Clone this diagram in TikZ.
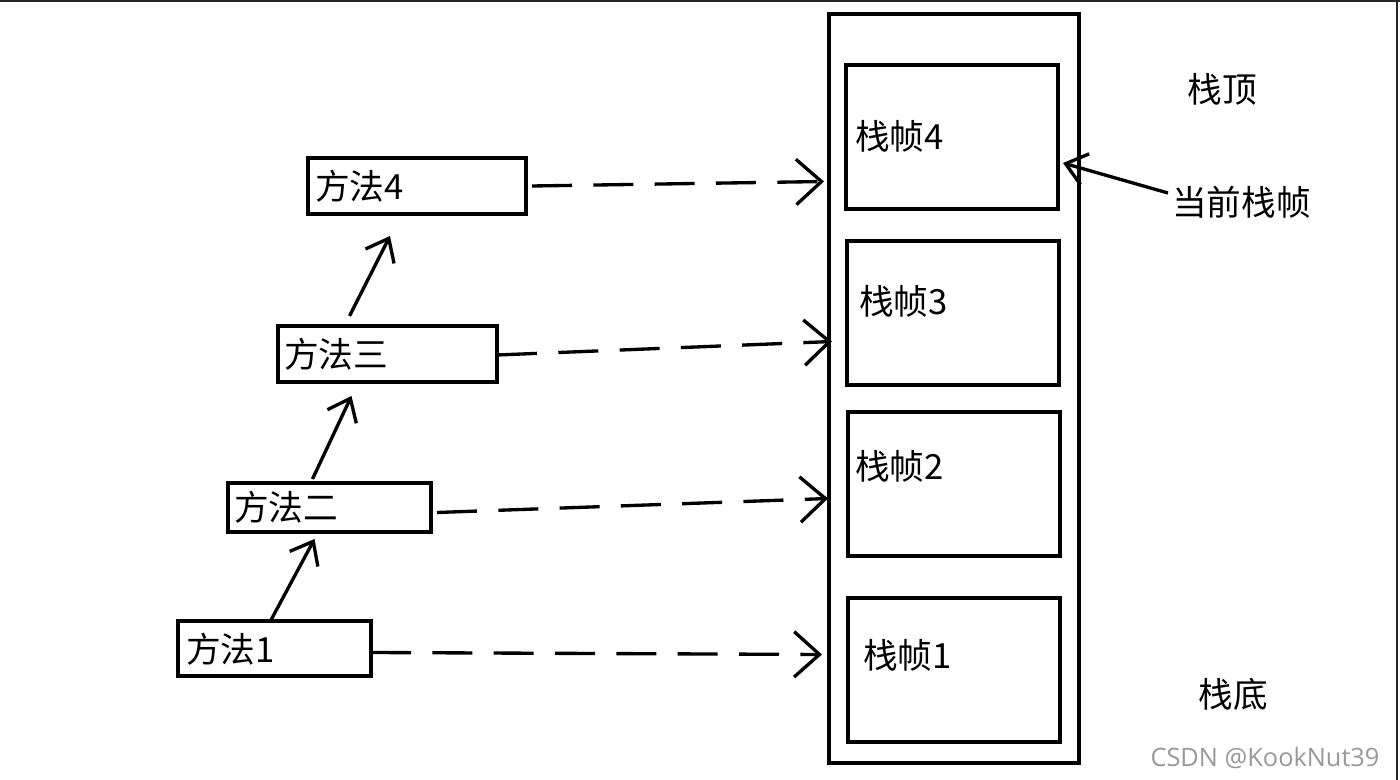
\documentclass[tikz,border=0pt]{standalone}
\usepackage{fontspec}
\setmainfont{Noto Sans CJK SC}
\newfontfamily\wmfont{Open Sans}
\usetikzlibrary{arrows.meta,calc}
\begin{document}
\begin{tikzpicture}[x=0.75pt,y=-0.75pt,
  every node/.style={inner sep=0pt,outer sep=0pt},
  box/.style={draw,line width=2.5pt},
  lbl/.style={font=\fontsize{26pt}{28pt}\selectfont,anchor=west},
  solidarr/.style={line width=2.5pt,-{Straight Barb[length=15pt,width=24pt,line width=2.5pt]}},
  dasharr/.style={line width=2.5pt,dash pattern=on 30pt off 16pt,-{Straight Barb[length=19pt,width=34pt,line width=2.5pt]}}
]
\useasboundingbox (0,0) rectangle (1400,780);
\fill[white] (0,0) rectangle (1400,780);
\draw[line width=1.5pt,black!85] (0,1) -- (1400,1);
\draw[line width=1.5pt,black!85] (1397,0) -- (1397,780);
% stack
\node[box,minimum width=187.5pt,minimum height=561.75pt] (stack) at (954,388.5) {};
\node[box,minimum width=159pt,minimum height=108pt] (f4) at (952,137) {};
\node[box,minimum width=159pt,minimum height=108pt] (f3) at (953,313) {};
\node[box,minimum width=159pt,minimum height=108pt] (f2) at (954,484) {};
\node[box,minimum width=159pt,minimum height=108pt] (f1) at (954,670) {};
\node[lbl] (t4) at (855,136) {栈帧4};
\node[lbl] (t3) at (859,301) {栈帧3};
\node[lbl] (t2) at (855,466) {栈帧2};
\node[lbl] (t1) at (863,655) {栈帧1};
\node[font=\fontsize{26pt}{28pt}\selectfont] (top) at (1222,89) {栈顶};
\node[font=\fontsize{26pt}{28pt}\selectfont] (bot) at (1233,694) {栈底};
\node[lbl] (cur) at (1172,202) {当前栈帧};
% methods
\node[box,minimum width=163.5pt,minimum height=42pt] (m4) at (417,186) {};
\node[box,minimum width=164.25pt,minimum height=42pt] (m3) at (387.5,354) {};
\node[box,minimum width=152.25pt,minimum height=36.75pt] (m2) at (329.5,507.5) {};
\node[box,minimum width=144.75pt,minimum height=41.25pt] (m1) at (274.5,648.5) {};
\node[lbl] (n4) at (315,186) {方法4};
\node[lbl] (n3) at (284,354) {方法三};
\node[lbl] (n2) at (234,507) {方法二};
\node[lbl] (n1) at (186,649) {方法1};
% solid call arrows
\draw[solidarr] ($(m1.north)+(-4,0)$) -- ($(m2.south)+(-15,7)$);
\draw[solidarr] ($(m2.north)+(-17,-4)$) -- ($(m3.south)+(-36,14)$);
\draw[solidarr] ($(m3.north)+(-38,-10)$) -- ($(m4.south)+(-27,22)$);
% dashed arrows to frames
\draw[dasharr] ($(m4.east)+(6,0)$) -- ($(stack.west)+(-5,-207)$);
\draw[dasharr] ($(m3.east)+(0,1)$) -- ($(stack.west)+(3,-47)$);
\draw[dasharr] ($(m2.east)+(6,5)$) -- ($(stack.west)+(-1,110)$);
\draw[dasharr] ($(m1.east)+(0,4)$) -- ($(stack.west)+(-7,266)$);
% current frame pointer
\draw[solidarr] ($(cur.west)+(-4,-9)$) -- ($(f4.east)+(5,26)$);
% watermark
\node[font=\wmfont\fontsize{19pt}{21pt}\selectfont,text=black!40] (wm) at (1265,758) {CSDN @KookNut39};
\end{tikzpicture}
\end{document}
